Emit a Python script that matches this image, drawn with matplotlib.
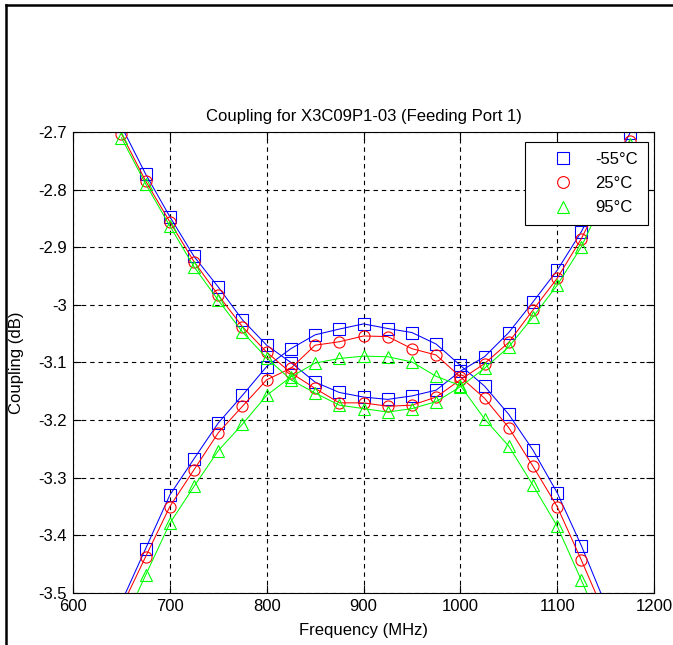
import numpy as np
import matplotlib.pyplot as plt
from matplotlib.lines import Line2D

plt.rcParams['font.family'] = ['Liberation Sans', 'DejaVu Sans']

# frequency points (MHz)
freq_u = [650, 675, 700, 725, 750, 775, 800, 825, 850, 875, 900,
          925, 950, 975, 1000, 1025, 1050, 1075, 1100, 1125, 1150, 1175]
freq_n = [650, 675, 700, 725, 750, 775, 800, 825, 850, 875, 900,
          925, 950, 975, 1000, 1025, 1050, 1075, 1100, 1125, 1150]

# U-shaped coupling curve (starts top left, ends top right)
u_m55 = [-2.690, -2.773, -2.847, -2.916, -2.969, -3.026, -3.070, -3.100, -3.134, -3.152, -3.160,
         -3.164, -3.158, -3.148, -3.115, -3.090, -3.048, -2.995, -2.940, -2.873, -2.790, -2.702]
u_25 = [-2.703, -2.785, -2.856, -2.925, -2.983, -3.038, -3.082, -3.118, -3.145, -3.170, -3.170,
        -3.176, -3.174, -3.160, -3.130, -3.102, -3.065, -3.009, -2.954, -2.885, -2.800, -2.715]
u_95 = [-2.710, -2.790, -2.863, -2.934, -2.992, -3.047, -3.092, -3.130, -3.153, -3.174, -3.180,
        -3.186, -3.180, -3.168, -3.142, -3.110, -3.073, -3.021, -2.966, -2.899, -2.810, -2.720]

# inverted-U coupling curve (starts bottom left, ends bottom right)
n_m55 = [-3.516, -3.423, -3.330, -3.267, -3.205, -3.157, -3.107, -3.076, -3.052, -3.042, -3.033,
         -3.041, -3.048, -3.068, -3.105, -3.141, -3.190, -3.252, -3.326, -3.418, -3.520]
n_25 = [-3.525, -3.437, -3.350, -3.286, -3.222, -3.176, -3.130, -3.110, -3.070, -3.064, -3.054,
        -3.055, -3.076, -3.087, -3.125, -3.162, -3.213, -3.280, -3.350, -3.443, -3.540]
n_95 = [-3.560, -3.469, -3.379, -3.315, -3.253, -3.207, -3.157, -3.125, -3.101, -3.093, -3.089,
        -3.090, -3.099, -3.124, -3.140, -3.198, -3.245, -3.313, -3.384, -3.478, -3.575]

labels = ['-55°C', '25°C', '95°C']
colors = ['#0000ff', '#ff0000', '#00ff00']
markers = ['s', 'o', '^']
msizes = [8, 8, 8.5]

fig = plt.figure(figsize=(6.73, 6.45), dpi=100)
ax = fig.add_axes([73/673, 1-593/645, 581/673, 461/645])

series = [(u_m55, n_m55), (u_25, n_25), (u_95, n_95)]
for (u, n), c, m, ms in zip(series, colors, markers, msizes):
    for f, v in [(freq_u, u), (freq_n, n)]:
        ax.plot(f, v, color=c, lw=0.75, marker=m, ms=ms, mfc='none', mec=c, mew=0.8)

ax.set_xlim(600, 1200)
ax.set_ylim(-3.5, -2.7)
ax.set_xticks(np.arange(600, 1201, 100))
ax.set_yticks(np.arange(-3.5, -2.69, 0.1))
ax.set_yticklabels(['-3.5', '-3.4', '-3.3', '-3.2', '-3.1', '-3', '-2.9', '-2.8', '-2.7'])
ax.grid(True, color='black', linestyle=(0, (4, 3.5)), linewidth=0.8)
ax.tick_params(direction='in', top=True, right=True, length=5.5, width=0.8,
               labelsize=12, pad=4.5)
for s in ax.spines.values():
    s.set_linewidth(0.8)

ax.set_title('Coupling for X3C09P1-03 (Feeding Port 1)', fontsize=12, pad=8)
ax.set_xlabel('Frequency (MHz)', fontsize=12)
ax.set_ylabel('Coupling (dB)', fontsize=12)
ax.xaxis.set_label_coords(0.5, -0.064)
ax.yaxis.set_label_coords(-0.084, 0.5)

handles = [Line2D([], [], linestyle='none', marker=m, color=c, ms=ms + 0.5, mfc='none', mew=0.8)
           for c, m, ms in zip(colors, markers, msizes)]
leg = ax.legend(handles, labels, loc='upper right', bbox_to_anchor=(0.9897, 0.9783),
                borderaxespad=0, fancybox=False, framealpha=1, edgecolor='black',
                fontsize=12, handlelength=3.3, handletextpad=0.3, borderpad=0.6,
                labelspacing=0.55)
leg.get_frame().set_linewidth(0.8)

# outer frame (top and left edges only visible)
fig.add_artist(Line2D([6/673, 1], [1-5/645, 1-5/645], color='black', lw=1.8))
fig.add_artist(Line2D([6/673, 6/673], [0, 1-5/645], color='black', lw=1.8))

fig.savefig('out.png', dpi=100)
